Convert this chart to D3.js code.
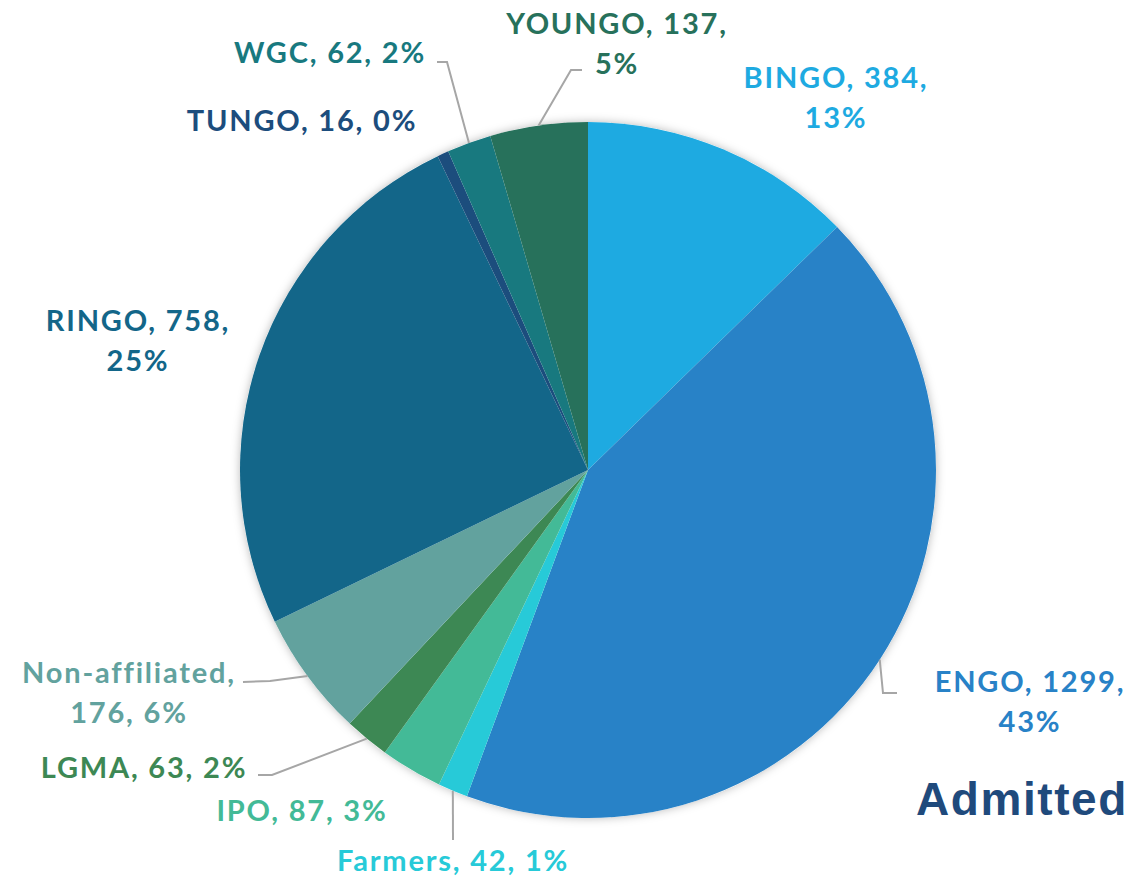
<!DOCTYPE html>
<html>
<head>
<meta charset="utf-8">
<script src="https://cdn.jsdelivr.net/npm/d3@7"></script>
<style>
  body { margin: 0; background: #fff; }
  .lbl { font-family: "Lato", "DejaVu Sans", sans-serif; font-weight: 700; font-size: 29px; letter-spacing: 1.8px; font-variant-ligatures: none; }
  .title { font-family: "Liberation Sans", Arial, sans-serif; font-weight: 700; font-size: 46px; letter-spacing: 1.6px; fill: #1f4a7c; }
</style>
</head>
<body>
<div id="graf"></div>
<script>
// constituency groups, clockwise from 12 o'clock
const groups = ["BINGO", "ENGO", "Farmers", "IPO", "LGMA", "Non-affiliated", "RINGO", "TUNGO", "WGC", "YOUNGO"]
const counts = [384, 1299, 42, 87, 63, 176, 758, 16, 62, 137]
const shares = ["13%", "43%", "1%", "3%", "2%", "6%", "25%", "0%", "2%", "5%"]
const colores = ["#1eaae1", "#2882c7", "#27cad8", "#43ba97", "#3d8854", "#62a29e", "#136689", "#1c4d7d", "#18797f", "#27715b"]

const anchoTotal = 1134
const altoTotal = 884
const cx = 588, cy = 470, radio = 348

// label placement: lines of text, anchor x, first baseline, optional leader elbow / end
const etiquetas = {
  "BINGO": { x: 836, y: 88, lines: (d) => [`${d.name}, ${d.value},`, d.share] },
  "ENGO": { x: 1030, y: 692, lines: (d) => [`${d.name}, ${d.value},`, d.share], leader: [[883, 693], [897, 693]] },
  "Farmers": { x: 453, y: 871, lines: (d) => [`${d.name}, ${d.value}, ${d.share}`], leader: [[453, 840]] },
  "IPO": { x: 302, y: 821, lines: (d) => [`${d.name}, ${d.value}, ${d.share}`] },
  "LGMA": { x: 144, y: 778, lines: (d) => [`${d.name}, ${d.value}, ${d.share}`], leader: [[272, 775], [258, 775]] },
  "Non-affiliated": { x: 129, y: 683, lines: (d) => [`${d.name},`, `${d.value}, ${d.share}`], leader: [[270, 681], [243, 682]] },
  "RINGO": { x: 138, y: 331, lines: (d) => [`${d.name}, ${d.value},`, d.share] },
  "TUNGO": { x: 302, y: 131, lines: (d) => [`${d.name}, ${d.value}, ${d.share}`] },
  "WGC": { x: 330, y: 63, lines: (d) => [`${d.name}, ${d.value}, ${d.share}`], leader: [[447, 62], [437, 62]] },
  "YOUNGO": { x: 617, y: 34, lines: (d) => [`${d.name}, ${d.value},`, d.share], leader: [[571, 70], [582, 70]] }
}

const data = groups.map((g, i) => ({ name: g, value: counts[i], share: shares[i] }))

const svg = d3.select("#graf")
  .append("svg")
  .attr("width", anchoTotal)
  .attr("height", altoTotal)

const defs = svg.append("defs")
const sombra = defs.append("filter").attr("id", "sombra")
  .attr("x", "-10%").attr("y", "-10%").attr("width", "120%").attr("height", "120%")
sombra.append("feDropShadow")
  .attr("dx", 0).attr("dy", 0).attr("stdDeviation", 5)
  .attr("flood-color", "#000").attr("flood-opacity", 0.28)

const color = d3.scaleOrdinal().domain(groups).range(colores)

const pie = d3.pie().value((d) => d.value).sort(null)
const arc = d3.arc().innerRadius(0).outerRadius(radio)
const arcs = pie(data)

const g = svg.append("g").attr("transform", `translate(${cx}, ${cy})`)

g.append("circle").attr("r", radio).attr("fill", "#fff").attr("filter", "url(#sombra)")

g.selectAll("path.slice")
  .data(arcs)
  .join("path")
  .attr("class", "slice")
  .attr("d", arc)
  .attr("fill", (d) => color(d.data.name))

// leader lines from the slice mid-angle on the rim
const linea = d3.line()
svg.selectAll("path.leader")
  .data(arcs.filter((d) => etiquetas[d.data.name].leader))
  .join("path")
  .attr("class", "leader")
  .attr("fill", "none")
  .attr("stroke", "#a6a6a6")
  .attr("stroke-width", 2)
  .attr("d", (d) => {
    const a = (d.startAngle + d.endAngle) / 2
    const p0 = [cx + radio * Math.sin(a), cy - radio * Math.cos(a)]
    return linea([p0, ...etiquetas[d.data.name].leader])
  })

const lbl = svg.selectAll("text.lbl")
  .data(arcs)
  .join("text")
  .attr("class", "lbl")
  .attr("text-anchor", "middle")
  .attr("fill", (d) => color(d.data.name))
  .attr("x", (d) => etiquetas[d.data.name].x)
  .attr("y", (d) => etiquetas[d.data.name].y)

lbl.selectAll("tspan")
  .data((d) => etiquetas[d.data.name].lines(d.data).map((t) => ({ t, x: etiquetas[d.data.name].x })))
  .join("tspan")
  .attr("x", (d) => d.x)
  .attr("dy", (d, i) => (i === 0 ? 0 : 40))
  .text((d) => d.t)

svg.append("text")
  .attr("class", "title")
  .attr("x", 1128)
  .attr("y", 815)
  .attr("text-anchor", "end")
  .text("Admitted")
</script>
</body>
</html>
